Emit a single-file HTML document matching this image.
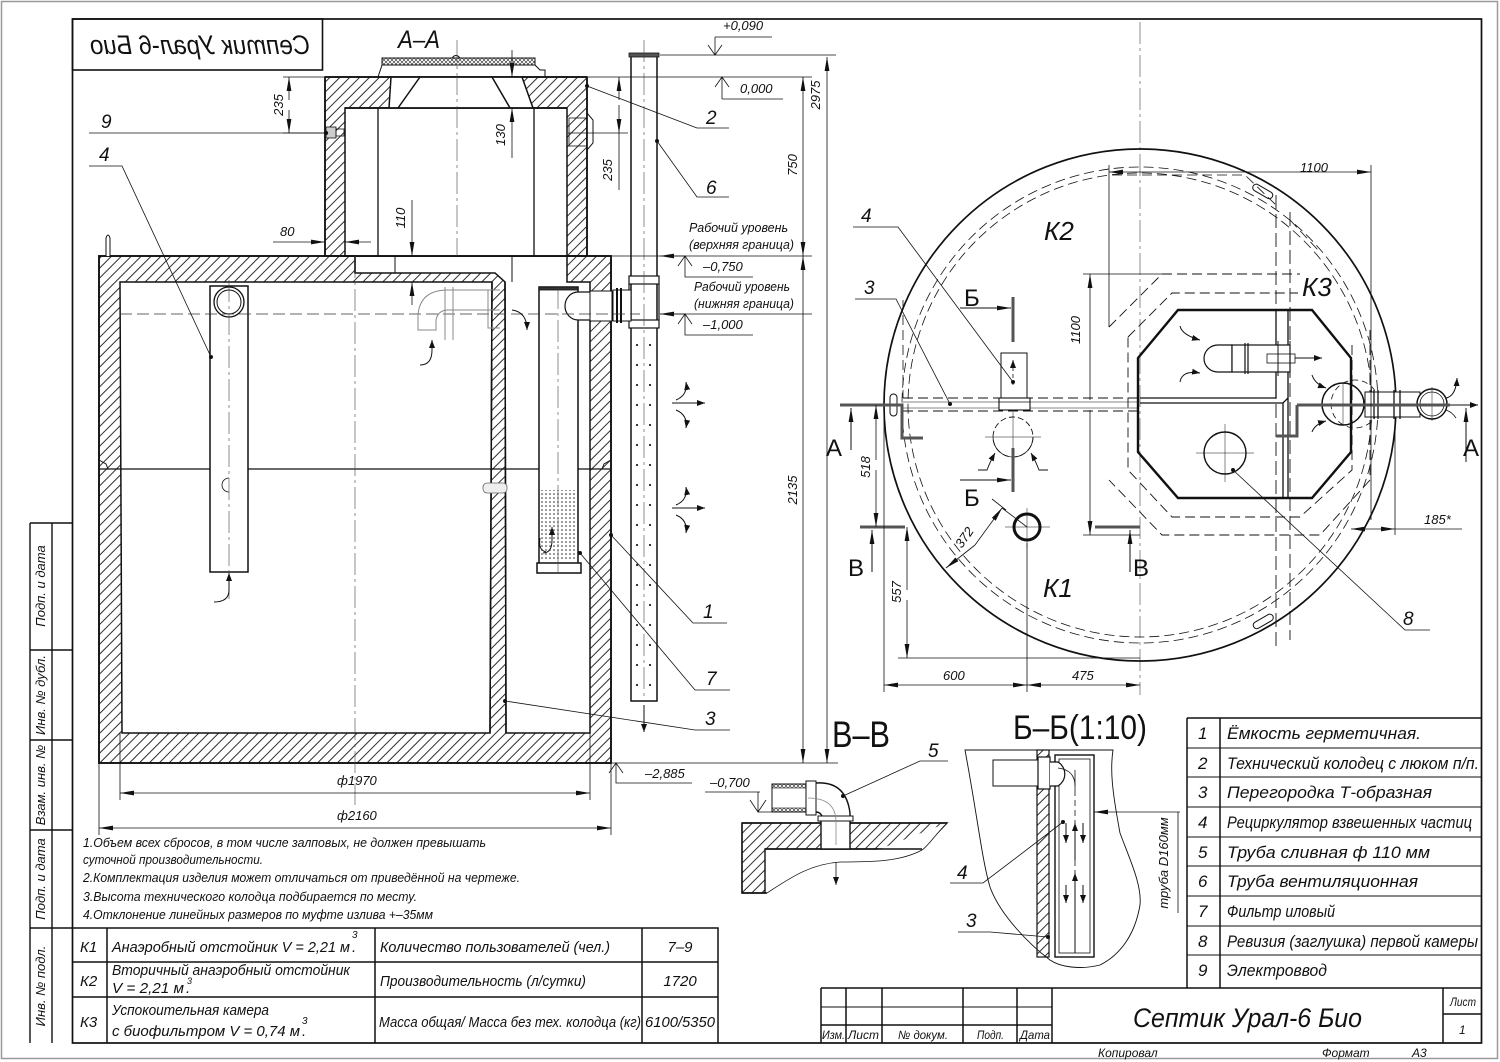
<!DOCTYPE html>
<html><head><meta charset="utf-8">
<style>
html,body{margin:0;padding:0;background:#fff;}
svg{display:block;}
text{font-family:"Liberation Sans","DejaVu Sans",sans-serif;font-style:italic;fill:#111;stroke:none;}
.u{font-style:normal;}
</style></head><body>
<svg width="1500" height="1062" viewBox="0 0 1500 1062" xmlns="http://www.w3.org/2000/svg">
<defs>
<pattern id="h" patternUnits="userSpaceOnUse" width="7" height="7" patternTransform="rotate(45)"><line x1="1" y1="0" x2="1" y2="7" stroke="#222" stroke-width="0.95"/></pattern>
<pattern id="x" patternUnits="userSpaceOnUse" width="4" height="4"><path d="M0,0 L4,4 M4,0 L0,4" stroke="#222" stroke-width="0.6"/></pattern>
<pattern id="vd" patternUnits="userSpaceOnUse" x="631" y="335" width="13" height="20"><circle cx="6" cy="10" r="1.1" fill="#222"/></pattern>
<pattern id="fd" patternUnits="userSpaceOnUse" width="4" height="4"><circle cx="2" cy="2" r="0.8" fill="#222"/></pattern>
<marker id="ar" markerUnits="userSpaceOnUse" markerWidth="14" markerHeight="6" refX="14" refY="3" orient="auto-start-reverse" viewBox="0 0 14 6"><path d="M0,0.6 L14,3 L0,5.4z" fill="#111"/></marker>
<marker id="sa" markerUnits="userSpaceOnUse" markerWidth="8" markerHeight="6" refX="8" refY="3" orient="auto" viewBox="0 0 8 6"><path d="M0,0 L8,3 L0,6z" fill="#111"/></marker>
</defs>

<!-- frames -->
<rect x="1.5" y="1.5" width="1496" height="1057" fill="none" stroke="#999" stroke-width="1.5"/>
<rect x="72.5" y="19" width="1409" height="1024" fill="none" stroke="#111" stroke-width="1.7"/>

<!-- left stamp column -->
<g fill="none" stroke="#111" stroke-width="1.4">
<path d="M30,523 V1043 M52,523 V1043 M30,523 H72 M30,650 H72 M30,740 H72 M30,830 H72 M30,928 H72"/>
</g>
<g font-size="13">
<text transform="translate(45,586) rotate(-90)" text-anchor="middle">Подп. и дата</text>
<text transform="translate(45,695) rotate(-90)" text-anchor="middle">Инв. № дубл.</text>
<text transform="translate(45,785) rotate(-90)" text-anchor="middle">Взам. инв. №</text>
<text transform="translate(45,879) rotate(-90)" text-anchor="middle">Подп. и дата</text>
<text transform="translate(45,986) rotate(-90)" text-anchor="middle">Инв. № подл.</text>
</g>

<!-- mirrored title box -->
<rect x="72.5" y="19" width="250" height="51" fill="none" stroke="#111" stroke-width="1.6"/>
<text transform="matrix(-1,0,0,1,400,0)" x="200" y="54" font-size="27" text-anchor="middle" textLength="220" lengthAdjust="spacingAndGlyphs">Септик Урал-6 Био</text>
<text x="398" y="48" font-size="25" textLength="42" lengthAdjust="spacingAndGlyphs">А–А</text>

<!-- ============ LEFT VIEW ============ -->
<g stroke="#111" stroke-width="1.5">
<rect x="99" y="256" width="512" height="507" fill="url(#h)"/>
<path d="M120,282 H492 L490,733 H122 Z" fill="#fff"/>
<path d="M355,256 H567 V282 H590 V733 H506 L505,282 L495,273 H355 Z" fill="#fff"/>
<path d="M325,77 H587 V256 H325 Z" fill="url(#h)"/>
<path d="M345,108 H567 V256 H345 Z" fill="#fff"/>
<path d="M391,77 H522 L533,108 H389 Z" fill="#fff" stroke="none"/>
<path d="M391,77 L389,108 M522,77 L533,108" fill="none"/>
<path d="M420,77 L398,108 M492,77 L510,108" fill="none"/>
<path d="M345,256 H355 V273" fill="none"/>
<path d="M378,108 V256 M534,108 V256" fill="none" stroke-width="1.3"/>
<path d="M355,256 H567 M395,256 V273 M512,256 V282" fill="none" stroke-width="1"/>
<rect x="382" y="58" width="153" height="7" fill="url(#x)" stroke-width="1"/>
<path d="M382,65 L378,77 M535,65 L540,70 H545 V77 M382,65 H535" fill="none" stroke-width="1"/>
<path d="M452,58 Q456,53 460,58" fill="none" stroke-width="1"/>
<path d="M587,113 L593,120 V143 L587,150" fill="#fff" stroke-width="1"/>
<rect x="569" y="118" width="18" height="28" fill="none" stroke-width="0.8"/>
<rect x="326" y="127" width="10" height="11" fill="#ccc" stroke-width="0.8"/>
<rect x="336" y="129" width="8" height="7" fill="none" stroke-width="0.8"/>
<path d="M492,282 L490,733 M505,282 L506,733" fill="none"/>
<rect x="99" y="256" width="512" height="507" fill="none" stroke-width="1.8"/>
<path d="M325,77 V256 M587,77 V256 M325,77 H587 M345,108 H567" fill="none" stroke-width="1.7"/>
<path d="M106,256 V238 Q108,232 110,238 V256" fill="#fff" stroke-width="1"/>
<path d="M99,469 H611" fill="none" stroke-width="1.3"/>
<path d="M99,460 L106,464 L108,469 M611,460 L604,464 L602,469" fill="none" stroke-width="1"/>
<rect x="210" y="286" width="38" height="286" fill="#fff"/>
<circle cx="229" cy="302" r="15" fill="none" stroke-width="1.3"/>
<circle cx="229" cy="302" r="12" fill="none" stroke-width="1"/>
<path d="M229,478 A5,5 0 1,0 229,492" fill="none" stroke-width="0.8"/>
<rect x="539" y="287" width="39" height="277" fill="#fff"/>
<rect x="541" y="490" width="35" height="70" fill="url(#fd)" stroke="none"/>
<rect x="539" y="287" width="39" height="3" fill="#333" stroke-width="0.8"/>
<rect x="537" y="563" width="44" height="10" fill="#fff"/>
<path d="M590,292 H578 A13,14 0 0,0 578,320 H590" fill="#fff" stroke-width="1.2"/>
<rect x="590" y="291" width="22" height="30" fill="#fff" stroke-width="1"/>
<rect x="631" y="56" width="26" height="645" fill="#fff"/>
<rect x="632" y="335" width="24" height="360" fill="url(#vd)" stroke="none"/>
<rect x="629" y="53" width="30" height="4" fill="#555" stroke-width="0.8"/>
<rect x="629" y="276" width="30" height="8" fill="#fff" stroke-width="1.2"/>
<rect x="629" y="320" width="30" height="8" fill="#fff" stroke-width="1.2"/>
<path d="M629,284 V320 M659,284 V320" fill="none" stroke-width="1.2"/>
<rect x="613" y="290" width="18" height="31" fill="#fff" stroke-width="1"/>
<path d="M617,288 V323 M621,288 V323" fill="none" stroke-width="2"/>
</g>
<g fill="none" stroke="#444" stroke-width="0.6" stroke-dasharray="22,4,3,4">
<path d="M355,256 V805 M457,40 V256 M229,280 V600 M558,287 V575 M644,40 V700 M1140,22 V695"/>
</g>
<path d="M120,314 H640" stroke="#333" stroke-width="0.8" stroke-dasharray="12,5" fill="none"/>
<g fill="none" stroke="#888" stroke-width="1">
<path d="M500,290 H448 Q420,290 418,315 V330 H436 V320 Q438,310 448,310 H500"/>
<path d="M445,287 V313 M453,287 V313 M445,311 V340 M453,311 V340" />
<path d="M488,290 V328 H500"/>
</g>
<g fill="none" stroke="#111" stroke-width="1">
<path d="M420,365 Q432,365 432,350 V340" marker-end="url(#sa)"/>
<path d="M512,310 Q527,312 527,330" marker-end="url(#sa)"/>
<path d="M214,602 Q229,602 229,590 V573" marker-end="url(#sa)"/>
<path d="M543,553 Q552,553 552,540 V527" marker-end="url(#sa)"/>
<path d="M540,538 Q538,550 546,552"/>
<path d="M644,705 V732" marker-end="url(#sa)"/>
<path d="M672,403 H705" marker-end="url(#sa)"/>
<path d="M676,400 Q688,395 686,382" marker-end="url(#sa)"/>
<path d="M676,410 Q688,415 686,428" marker-end="url(#sa)"/>
<path d="M672,508 H705" marker-end="url(#sa)"/>
<path d="M676,505 Q688,500 686,487" marker-end="url(#sa)"/>
<path d="M676,515 Q688,520 686,533" marker-end="url(#sa)"/>
</g>
<rect x="483" y="483" width="24" height="10" rx="4" fill="#eee" stroke="#666" stroke-width="0.8"/>

<g fill="none" stroke="#111" stroke-width="0.8">
<path d="M283,77 H325 M283,133 H326"/>
<path d="M289,100 V77" marker-end="url(#ar)"/>
<path d="M289,110 V133" marker-end="url(#ar)"/>
<path d="M273,242 H325" marker-end="url(#ar)"/>
<path d="M371,242 H345" marker-end="url(#ar)"/>
<path d="M412,200 V256" marker-end="url(#ar)"/>
<path d="M412,305 V282" marker-end="url(#ar)"/>
<path d="M512,50 V77" marker-end="url(#ar)"/>
<path d="M512,158 V108" marker-end="url(#ar)"/>
<path d="M568,133 H628"/>
<path d="M619,100 V77" marker-end="url(#ar)"/>
<path d="M619,105 V133" marker-end="url(#ar)"/>
<path d="M619,133 V190"/>
<path d="M89,133 H326"/>
<path d="M89,166 H122 L211,357"/>
<path d="M587,86 L697,128 H729"/>
<path d="M657,141 L697,197 H729"/>
<path d="M611,535 L693,623 H727"/>
<path d="M580,553 L695,690 H730"/>
<path d="M505,701 L695,730 H730"/>
<path d="M660,55 H836 M587,77 H812 M612,256 H812 M660,314 H812 M611,763 H838"/>
<path d="M827,65 V57" marker-end="url(#ar)"/>
<path d="M827,700 V763" marker-end="url(#ar)"/>
<path d="M827,65 V700"/>
<path d="M803,100 V77" marker-end="url(#ar)"/>
<path d="M803,230 V256" marker-end="url(#ar)"/>
<path d="M803,100 V230"/>
<path d="M803,280 V256" marker-end="url(#ar)"/>
<path d="M803,740 V763" marker-end="url(#ar)"/>
<path d="M803,280 V740"/>
<path d="M715,37 H772 M715,37 V55 M708,45 L715,55 L722,45"/>
<path d="M722,99 H783 M722,77 V99 M715,87 L722,77 L729,87"/>
<path d="M685,256 H660" marker-end="url(#ar)"/>
<path d="M685,256 V277 H753 M678,266 L685,256 L692,266"/>
<path d="M685,314 H660" marker-end="url(#ar)"/>
<path d="M685,314 V335 H753 M678,324 L685,314 L692,324"/>
<path d="M616,763 V783 H692 M609,773 L616,763 L623,773"/>
<path d="M120,733 V800 M590,733 V800 M99,763 V835 M611,763 V835"/>
<path d="M355,793 H120" marker-end="url(#ar)"/>
<path d="M355,793 H590" marker-end="url(#ar)"/>
<path d="M355,828 H99" marker-end="url(#ar)"/>
<path d="M355,828 H611" marker-end="url(#ar)"/>
</g>
<g fill="#111" stroke="none"><circle cx="326" cy="133" r="2.2"/><circle cx="211" cy="357" r="2"/><circle cx="587" cy="86" r="2"/><circle cx="657" cy="141" r="2"/><circle cx="611" cy="535" r="2"/><circle cx="580" cy="553" r="2"/><circle cx="505" cy="701" r="2"/></g>
<g font-size="13">
<text transform="translate(283,105) rotate(-90)" text-anchor="middle">235</text>
<text x="280" y="236">80</text>
<text transform="translate(405,218) rotate(-90)" text-anchor="middle">110</text>
<text transform="translate(505,135) rotate(-90)" text-anchor="middle">130</text>
<text transform="translate(612,170) rotate(-90)" text-anchor="middle">235</text>
<text transform="translate(820,95) rotate(-90)" text-anchor="middle">2975</text>
<text transform="translate(797,165) rotate(-90)" text-anchor="middle">750</text>
<text transform="translate(797,490) rotate(-90)" text-anchor="middle">2135</text>
<text x="723" y="30">+0,090</text>
<text x="740" y="93">0,000</text>
<text x="703" y="271">–0,750</text>
<text x="703" y="329">–1,000</text>
<text x="689" y="232" textLength="99" lengthAdjust="spacingAndGlyphs">Рабочий уровень</text>
<text x="689" y="249" textLength="105" lengthAdjust="spacingAndGlyphs">(верхняя граница)</text>
<text x="694" y="291" textLength="96" lengthAdjust="spacingAndGlyphs">Рабочий уровень</text>
<text x="694" y="308" textLength="100" lengthAdjust="spacingAndGlyphs">(нижняя граница)</text>
<text x="645" y="778">–2,885</text>
<text x="710" y="787">–0,700</text>
<text x="337" y="785">ф1970</text>
<text x="337" y="820">ф2160</text>
</g>
<g font-size="19">
<text x="101" y="128">9</text>
<text x="99" y="161">4</text>
<text x="706" y="124">2</text>
<text x="706" y="194">6</text>
<text x="703" y="618">1</text>
<text x="706" y="685">7</text>
<text x="705" y="725">3</text>
</g>

<!-- ============ PLAN VIEW ============ -->
<g fill="none" stroke="#111">
<circle cx="1140" cy="405" r="256" stroke-width="1.7"/>
<circle cx="1140" cy="405" r="238" stroke-width="0.8" stroke-dasharray="10,5"/>
<circle cx="1140" cy="405" r="232" stroke-width="0.8" stroke-dasharray="10,5"/>
<path d="M903,398 H1138 M903,411 H1138" stroke-width="0.9" stroke-dasharray="10,5"/>
<path d="M903,402 H1138 M903,408 H1138" stroke-width="0.6"/>
<path d="M903,300 V398 M903,411 V440" stroke-width="0.8" stroke-dasharray="10,5"/>
<path d="M1276,195 V650 M1290,212 V640" stroke-width="0.9" stroke-dasharray="14,5"/>
<path d="M1112,175 H1245 L1276,205 M1290,220 L1318,250" stroke-width="0.8" stroke-dasharray="10,5"/>
<path d="M1109,327 L1162,274 H1300 M1370,330 V480 L1320,535 H1162 L1109,480" stroke-width="0.9" stroke-dasharray="10,5"/>
<path d="M1128,337 L1172,293 H1298 M1352,345 V470 L1300,517 H1172 L1128,470 V337" stroke-width="0.9" stroke-dasharray="10,5"/>
<path d="M1178,310 H1312 L1351,358 V452 L1312,498 H1178 L1138,452 V358 Z" stroke-width="2.4"/>
<path d="M1140,398 H1276 M1140,403 H1283 L1288,398 M1276,310 V398 M1288,310 V398 M1283,403 V498 M1288,398 V498" stroke-width="1.3"/>
<path d="M1232,345 H1218 A14,13.5 0 0,0 1218,372 H1232 Z" fill="#fff" stroke-width="1.2"/>
<rect x="1232" y="345" width="58" height="27" fill="#fff" stroke-width="1.2"/>
<path d="M1245,343 V374 M1248,343 V374" stroke-width="1.2"/>
<rect x="1267" y="354" width="28" height="9" stroke-width="0.8"/>
<path d="M1278,341 V376 M1290,341 V376" stroke-width="1"/>
<path d="M1295,358 H1322" stroke-width="1" marker-end="url(#sa)"/>
<path d="M1180,326 Q1182,335 1200,340" stroke-width="1" marker-end="url(#sa)"/>
<path d="M1180,382 Q1182,370 1200,373" stroke-width="1" marker-end="url(#sa)"/>
<circle cx="1343" cy="404" r="21" stroke-width="1.5"/>
<circle cx="1355" cy="404" r="24" stroke-width="0.8" stroke-dasharray="6,4"/>
<rect x="1365" y="392" width="55" height="25" fill="#fff" stroke-width="1"/>
<path d="M1374,390 V419 M1378,390 V419 M1394,390 V419 M1400,390 V419" stroke-width="1.3"/>
<circle cx="1432" cy="404" r="15" stroke-width="1.5" fill="#fff"/>
<circle cx="1432" cy="404" r="12" stroke-width="0.8"/>
<path d="M1312,375 Q1315,384 1326,388" stroke-width="1" marker-end="url(#sa)"/>
<path d="M1312,432 Q1315,424 1326,421" stroke-width="1" marker-end="url(#sa)"/>
<path d="M1446,398 Q1456,396 1457,378" stroke-width="1" marker-end="url(#sa)"/>
<path d="M1446,410 Q1452,412 1456,418" stroke-width="0.8"/>
<circle cx="1225" cy="453" r="21" stroke-width="1.4"/>
<path d="M1196,453 H1254 M1225,424 V482" stroke-width="0.5"/>
<path d="M1322,404 H1364 M1343,383 V425 M1413,404 H1450 M1432,387 V421" stroke-width="0.5"/>
<rect x="890" y="394" width="7" height="22" rx="3.5" stroke-width="1"/>
<rect x="1252" y="188" width="22" height="7" rx="3.5" stroke-width="1" transform="rotate(30 1263 191)"/>
<rect x="1252" y="618" width="22" height="7" rx="3.5" stroke-width="1" transform="rotate(-30 1263 621)"/>
<rect x="1001" y="353" width="26" height="45" fill="#fff" stroke-width="1"/>
<rect x="999" y="398" width="31" height="12" fill="#fff" stroke-width="1.1"/>
<path d="M999,402 H1030" stroke-width="0.8"/>
<path d="M1013,385 V360" stroke-width="0.8" stroke-dasharray="4,3" marker-end="url(#sa)"/>
<circle cx="1013" cy="437" r="20" stroke-width="0.9" stroke-dasharray="6,3"/>
<path d="M993,437 A20,20 0 0,0 1033,437" stroke-width="0.8"/>
<path d="M985,437 H1041 M1013,412 V465" stroke-width="0.5"/>
<path d="M978,470 H987 Q990,462 995,453" stroke-width="0.9" marker-end="url(#sa)"/>
<path d="M1048,470 H1039 Q1036,462 1031,453" stroke-width="0.9" marker-end="url(#sa)"/>
<circle cx="1027" cy="527" r="13" stroke-width="3"/>
<path d="M1005,527 H1050 M1027,508 V548" stroke-width="0.5"/>
</g>
<g fill="none" stroke="#555" stroke-width="3">
<path d="M840,405 H902 V438 H923"/>
<path d="M1297,405 V436 H1276"/>
<path d="M1297,405 H1450"/>
<path d="M1013,297 V342 M1013,448 V492"/>
<path d="M860,527 H905 M1095,527 H1140"/>
</g>
<g fill="none" stroke="#111" stroke-width="1">
<path d="M1450,405 H1478" marker-end="url(#sa)"/>
<path d="M851,450 V408" marker-end="url(#ar)"/>
<path d="M1466,462 V408" marker-end="url(#ar)"/>
<path d="M872,572 V530" marker-end="url(#ar)"/>
<path d="M1130,572 V530" marker-end="url(#ar)"/>
<path d="M960,308 H1011" marker-end="url(#ar)"/>
<path d="M960,480 H1011" marker-end="url(#ar)"/>
</g>
<g fill="none" stroke="#111" stroke-width="0.8">
<path d="M876,460 V405" marker-end="url(#ar)"/>
<path d="M876,470 V527" marker-end="url(#ar)"/>
<path d="M907,590 V527" marker-end="url(#ar)"/>
<path d="M907,600 V658" marker-end="url(#ar)"/>
<path d="M898,658 H1140"/>
<path d="M884,410 V692 M1027,543 V692"/>
<path d="M955,685 H884" marker-end="url(#ar)"/>
<path d="M955,685 H1027" marker-end="url(#ar)"/>
<path d="M1083,685 H1027" marker-end="url(#ar)"/>
<path d="M1083,685 H1140" marker-end="url(#ar)"/>
<path d="M1090,400 V274" marker-end="url(#ar)"/>
<path d="M1090,410 V535" marker-end="url(#ar)"/>
<path d="M1083,274 H1170 M1083,535 H1140"/>
<path d="M1109,165 V327 M1371,165 V520"/>
<path d="M1240,172 H1109" marker-end="url(#ar)"/>
<path d="M1240,172 H1371" marker-end="url(#ar)"/>
<path d="M1395,420 V535"/>
<path d="M1373,529 H1351" marker-end="url(#ar)"/>
<path d="M1373,529 H1395" marker-end="url(#ar)"/>
<path d="M1395,529 H1462"/>
<path d="M975,545 L1002,508" marker-end="url(#ar)"/>
<path d="M975,545 L946,568" marker-end="url(#ar)"/>
<path d="M1002,508 L1027,527 M992,499 L1006,510"/>
<path d="M853,227 H898 L1013,382"/>
<path d="M855,299 H896 L950,404"/>
<path d="M1233,470 L1405,630 H1430"/>
</g>
<g fill="#111"><circle cx="1013" cy="382" r="2"/><circle cx="950" cy="404" r="2"/><circle cx="1233" cy="470" r="2"/></g>
<g font-size="13">
<text transform="translate(870,467) rotate(-90)" text-anchor="middle">518</text>
<text transform="translate(901,592) rotate(-90)" text-anchor="middle">557</text>
<text x="943" y="680">600</text>
<text x="1072" y="680">475</text>
<text transform="translate(1080,330) rotate(-90)" text-anchor="middle">1100</text>
<text x="1300" y="172">1100</text>
<text x="1424" y="524">185*</text>
<text transform="translate(968,540) rotate(-55)" text-anchor="middle">372</text>
</g>
<g font-size="26">
<text x="1044" y="240">К2</text>
<text x="1302" y="296">К3</text>
<text x="1043" y="597">К1</text>
</g>
<g font-size="19">
<text x="861" y="222">4</text>
<text x="864" y="294">3</text>
<text x="1403" y="625">8</text>
</g>
<g font-size="24">
<text class="u" x="826" y="456">А</text>
<text class="u" x="1463" y="456">А</text>
<text class="u" x="964" y="306">Б</text>
<text class="u" x="964" y="506">Б</text>
<text class="u" x="848" y="576">В</text>
<text class="u" x="1133" y="576">В</text>
</g>

<!-- ============ В-В ============ -->
<text class="u" x="832" y="747" font-size="37" textLength="58" lengthAdjust="spacingAndGlyphs">В–В</text>
<g stroke="#111" stroke-width="1.4">
<path d="M742,823 H947 L922,849 H765 V893 H742 Z" fill="url(#h)"/>
<path d="M947,823 C935,835 928,846 922,850 C900,862 870,862 840,862 C810,864 790,878 767,893" fill="#fff" stroke-width="0.8"/>
<path d="M742,823 H947 M742,823 V893 H767 M765,849 H922" fill="none"/>
<rect x="821" y="819" width="29" height="30" fill="#fff"/>
<rect x="818" y="816" width="35" height="5" fill="#fff" stroke-width="1"/>
<rect x="772" y="784" width="34" height="28" fill="#fff" stroke-width="1"/>
<rect x="772" y="784" width="34" height="4" fill="url(#x)" stroke-width="0.6"/>
<rect x="772" y="808" width="34" height="4" fill="url(#x)" stroke-width="0.6"/>
<rect x="806" y="781" width="10" height="34" fill="#fff" stroke-width="1"/>
<path d="M816,783 Q846,781 850,813 V816 M816,812 Q820,812 822,816" fill="none"/>
<path d="M808,798 Q836,798 836,822 V845" fill="none" stroke="#888" stroke-width="0.8"/>
</g>
<g fill="none" stroke="#111" stroke-width="0.8">
<path d="M843,796 L920,761 H948"/>
<path d="M836,862 V885" marker-end="url(#sa)"/>
<path d="M705,792 H760 M750,800 L758,812 L766,800 M758,792 V812 H790"/>
</g>
<circle cx="843" cy="796" r="2" fill="#111"/>
<text x="928" y="757" font-size="19">5</text>

<!-- ============ Б-Б ============ -->
<text class="u" x="1013" y="739" font-size="34" textLength="134" lengthAdjust="spacingAndGlyphs">Б–Б(1:10)</text>
<g stroke="#111" stroke-width="1.2" fill="none">
<path d="M965,750 H1113 C1110,770 1112,790 1120,833 C1130,860 1142,885 1140,905 C1135,935 1120,955 1100,965 C1080,970 1060,967 1050,960 C1030,945 1000,915 990,887 C982,860 978,820 965,750 Z" stroke-width="0.9"/>
<rect x="1037" y="750" width="12" height="207" fill="url(#h)"/>
<rect x="1055" y="755" width="39" height="202" fill="#fff" stroke-width="1.4"/>
<rect x="1059" y="759" width="31" height="194" stroke-width="0.8"/>
<rect x="993" y="760" width="45" height="26" fill="#fff" stroke-width="1"/>
<rect x="1038" y="757" width="12" height="32" fill="#fff" stroke-width="1.2"/>
<path d="M1050,762 H1058 A14,14 0 0,1 1058,786 H1050" fill="#fff"/>
<path d="M1058,768 Q1075,770 1075,786" stroke-width="0.8"/>
<path d="M1075,790 V950" stroke-width="0.8" stroke-dasharray="6,4"/>
<path d="M1075,770 V790" stroke-width="0.8"/>
</g>
<g fill="none" stroke="#111" stroke-width="1">
<path d="M1066,823 V843" marker-end="url(#sa)"/>
<path d="M1083,823 V843" marker-end="url(#sa)"/>
<path d="M1066,885 V903" marker-end="url(#sa)"/>
<path d="M1083,885 V903" marker-end="url(#sa)"/>
<path d="M1075,860 V823" marker-end="url(#sa)"/>
<path d="M1075,953 V873" marker-end="url(#sa)"/>
<path d="M1180,812 H1094" marker-end="url(#ar)" stroke-width="0.8"/>
<path d="M1178,812 V913" stroke-width="0.8"/>
<path d="M950,883 H983 L1063,822" stroke-width="0.8"/>
<path d="M958,932 H990 L1048,937" stroke-width="0.8"/>
</g>
<g fill="#111"><circle cx="1063" cy="822" r="2"/><circle cx="1048" cy="937" r="2"/></g>
<text transform="translate(1168,863) rotate(-90)" font-size="13" text-anchor="middle">труба D160мм</text>
<text x="957" y="879" font-size="19">4</text>
<text x="966" y="927" font-size="19">3</text>

<!-- ============ NOTES ============ -->
<g font-size="13">
<text x="83" y="847" textLength="403" lengthAdjust="spacingAndGlyphs">1.Объем всех сбросов, в том числе залповых, не должен превышать</text>
<text x="83" y="864" textLength="180" lengthAdjust="spacingAndGlyphs">суточной производительности.</text>
<text x="83" y="882" textLength="437" lengthAdjust="spacingAndGlyphs">2.Комплектация изделия может отличаться от приведённой на чертеже.</text>
<text x="83" y="901" textLength="334" lengthAdjust="spacingAndGlyphs">3.Высота технического колодца подбирается по месту.</text>
<text x="83" y="919" textLength="350" lengthAdjust="spacingAndGlyphs">4.Отклонение линейных размеров по муфте излива +–35мм</text>
</g>

<!-- K table -->
<g fill="none" stroke="#111" stroke-width="1.5">
<path d="M72,928 H718 V1043 M72,962 H718 M72,997 H718 M107,928 V1043 M375,928 V1043 M642,928 V1043"/>
</g>
<g font-size="15">
<text x="80" y="952">К1</text>
<text x="80" y="986">К2</text>
<text x="80" y="1027">К3</text>
<text x="112" y="952" textLength="238" lengthAdjust="spacingAndGlyphs">Анаэробный отстойник V = 2,21 м</text>
<text x="352" y="938" font-size="10">3</text><text x="352" y="952">.</text>
<text x="112" y="975" textLength="238" lengthAdjust="spacingAndGlyphs">Вторичный анаэробный отстойник</text>
<text x="112" y="993" textLength="72" lengthAdjust="spacingAndGlyphs">V = 2,21 м</text>
<text x="187" y="984" font-size="9">3</text><text x="186" y="993">.</text>
<text x="112" y="1015" textLength="157" lengthAdjust="spacingAndGlyphs">Успокоительная камера</text>
<text x="112" y="1036" textLength="188" lengthAdjust="spacingAndGlyphs">с биофильтром V = 0,74 м</text>
<text x="302" y="1024" font-size="10">3</text><text x="302" y="1036">.</text>
<text x="380" y="952" textLength="230" lengthAdjust="spacingAndGlyphs">Количество пользователей (чел.)</text>
<text x="380" y="986" textLength="206" lengthAdjust="spacingAndGlyphs">Производительность (л/сутки)</text>
<text x="379" y="1027" textLength="262" lengthAdjust="spacingAndGlyphs">Масса общая/ Масса без тех. колодца (кг)</text>
<text x="680" y="952" text-anchor="middle">7–9</text>
<text x="680" y="986" text-anchor="middle">1720</text>
<text x="680" y="1027" text-anchor="middle" textLength="70" lengthAdjust="spacingAndGlyphs">6100/5350</text>
</g>

<!-- parts table -->
<g fill="none" stroke="#111" stroke-width="1.5">
<path d="M1187,718 H1481 M1187,718 V988 M1220,718 V988"/>
<path d="M1187,748 H1481 M1187,777 H1481 M1187,807 H1481 M1187,837 H1481 M1187,866 H1481 M1187,896 H1481 M1187,926 H1481 M1187,955 H1481" stroke-width="1"/>
</g>
<g font-size="17">
<text x="1198" y="739">1</text>
<text x="1198" y="769">2</text>
<text x="1198" y="798">3</text>
<text x="1198" y="828">4</text>
<text x="1198" y="858">5</text>
<text x="1198" y="887">6</text>
<text x="1198" y="917">7</text>
<text x="1198" y="947">8</text>
<text x="1198" y="976">9</text>
<text x="1227" y="739" textLength="194" lengthAdjust="spacingAndGlyphs">Ёмкость герметичная.</text>
<text x="1227" y="769" textLength="252" lengthAdjust="spacingAndGlyphs">Технический колодец с люком п/п.</text>
<text x="1227" y="798" textLength="205" lengthAdjust="spacingAndGlyphs">Перегородка Т-образная</text>
<text x="1227" y="828" textLength="245" lengthAdjust="spacingAndGlyphs">Рециркулятор взвешенных частиц</text>
<text x="1227" y="858" textLength="203" lengthAdjust="spacingAndGlyphs">Труба сливная ф 110 мм</text>
<text x="1227" y="887" textLength="191" lengthAdjust="spacingAndGlyphs">Труба вентиляционная</text>
<text x="1227" y="917" textLength="108" lengthAdjust="spacingAndGlyphs">Фильтр иловый</text>
<text x="1227" y="947" textLength="251" lengthAdjust="spacingAndGlyphs">Ревизия (заглушка) первой камеры</text>
<text x="1227" y="976" textLength="100" lengthAdjust="spacingAndGlyphs">Электроввод</text>
</g>

<!-- title block -->
<g fill="none" stroke="#111" stroke-width="1.5">
<path d="M821,988 H1481 M821,988 V1043 M846,988 V1043 M882,988 V1043 M963,988 V1043 M1017,988 V1043 M1052,988 V1043 M1443,988 V1043 M1443,1014 H1481"/>
<path d="M821,1007 H1052" stroke-width="1"/>
<path d="M821,1025 H1052" stroke-width="1.4"/>
</g>
<g font-size="12">
<text x="822" y="1039" textLength="23" lengthAdjust="spacingAndGlyphs">Изм.</text>
<text x="848" y="1039" textLength="31" lengthAdjust="spacingAndGlyphs">Лист</text>
<text x="898" y="1039" textLength="50" lengthAdjust="spacingAndGlyphs">№ докум.</text>
<text x="977" y="1039" textLength="27" lengthAdjust="spacingAndGlyphs">Подп.</text>
<text x="1020" y="1039" textLength="30" lengthAdjust="spacingAndGlyphs">Дата</text>
<text x="1450" y="1006" textLength="26" lengthAdjust="spacingAndGlyphs">Лист</text>
<text x="1459" y="1034">1</text>
<text x="1098" y="1057">Копировал</text>
<text x="1322" y="1057">Формат</text>
<text x="1412" y="1057">А3</text>
</g>
<text x="1133" y="1027" font-size="27" textLength="229" lengthAdjust="spacingAndGlyphs">Септик Урал-6 Био</text>
</svg>
</body></html>
